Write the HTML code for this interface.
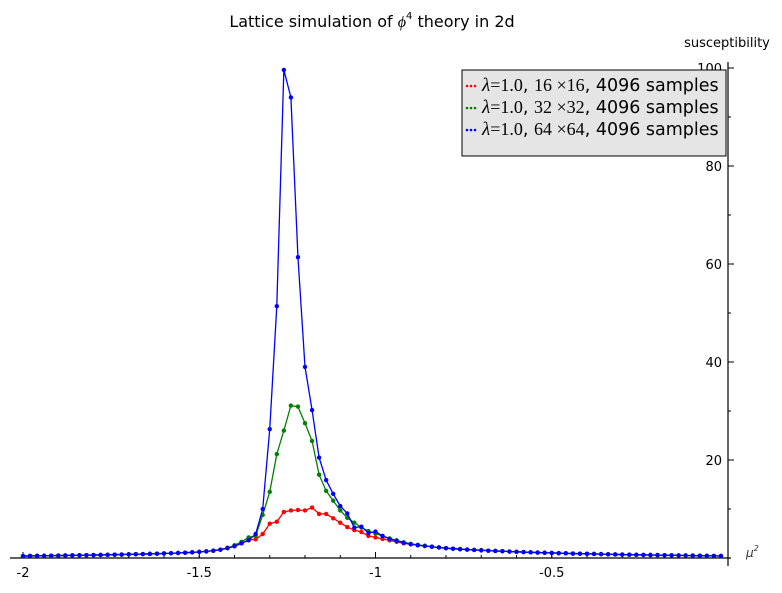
<!DOCTYPE html>
<html><head><meta charset="utf-8"><style>
body{margin:0;background:#fff;font-family:"Liberation Sans","DejaVu Sans",sans-serif}
</style></head><body>
<svg id="chart" width="782" height="588" xmlns="http://www.w3.org/2000/svg" font-family="DejaVu Sans, Liberation Sans, sans-serif">
<rect width="782" height="588" fill="#fff"/>
<text x="372" y="27" font-size="16" text-anchor="middle">Lattice simulation of <tspan font-style="italic" font-family="Liberation Serif, serif">ϕ</tspan><tspan font-size="10" dy="-8">4</tspan><tspan dy="8"> theory in 2d</tspan></text>
<text x="727" y="47" font-size="13" text-anchor="middle">susceptibility</text>
<text x="746" y="557" font-size="12" font-style="italic" fill="#333">μ<tspan font-size="8" dy="-6">2</tspan></text>
<g id="axes"></g>
<g id="series"></g>
<g>
<rect x="462" y="70" width="264" height="86" fill="#e5e5e5" stroke="#000" stroke-width="1"/>
<g id="legend-items"></g>
</g>
</svg>
<script>
const xStart = -2, xStep = 0.02;
const tailLeft = [0.40,0.42,0.44,0.46,0.48,0.50,0.52,0.54,0.56,0.58,0.60,0.62,0.65,0.68,0.71,0.74,0.77,0.80,0.84,0.88,0.92,0.97,1.02,1.08,1.15,1.25,1.35,1.5,1.7];
const tailRight = [2.0,1.9,1.8,1.72,1.65,1.58,1.5,1.44,1.38,1.32,1.26,1.21,1.16,1.11,1.07,1.03,0.99,0.95,0.91,0.88,0.85,0.82,0.79,0.76,0.73,0.70,0.67,0.65,0.63,0.61,0.59,0.57,0.55,0.53,0.51,0.49,0.47,0.45,0.43,0.41];
const redPeak = [2.1,2.4,3.0,3.7,3.8,4.9,7.0,7.4,9.4,9.7,9.8,9.7,10.3,9.0,9.0,8.1,7.2,6.3,5.7,5.3,4.5,4.2,3.9,3.6,3.3,3.0,2.8,2.6,2.45,2.3,2.15];
const greenPeak = [2.0,2.6,3.3,4.2,4.5,8.8,13.5,21.2,26,31.1,30.9,27.5,23.9,17,13.7,11.7,9.7,8.2,7.2,6.2,5.5,5.0,4.5,4.0,3.6,3.2,2.9,2.7,2.5,2.3,2.15];
const bluePeak = [2.0,2.4,3.0,3.6,4.9,10,26.3,51.4,99.6,94,61.4,39,30.2,20.5,15.9,13.1,10.6,9.1,6.2,6.4,5.1,5.4,4.5,3.9,3.5,3.1,2.8,2.6,2.45,2.3,2.15];
const red = tailLeft.concat(redPeak, tailRight);
const green = tailLeft.concat(greenPeak, tailRight);
const blue = tailLeft.concat(bluePeak, tailRight);
const xTicks = [-2,-1.5,-1,-0.5];
const xTickLabels = ["-2","-1.5","-1","-0.5"];
const yTicks = [20,40,60,80,100];
const yTickLabels = ["20","40","60","80","100"];
const legendLabels = ["16 ×16","32 ×32","64 ×64"];

const NS="http://www.w3.org/2000/svg";
function X(v){return 23+(v+2)*352.5;}
function Y(v){return 558-v*4.9;}
function mk(t,a,p){const e=document.createElementNS(NS,t);for(const k in a)e.setAttribute(k,a[k]);p.appendChild(e);return e;}
const axes=document.getElementById('axes');
const xl=mk('line',{x1:10,y1:558,x2:731,y2:558,stroke:'#000','stroke-width':1.2},axes);


const yl=mk('line',{x1:728,y1:62,x2:728,y2:566,stroke:'#000','stroke-width':1.2},axes);


for(let v=-2;v<0.001;v+=0.1){const x=X(v);mk('line',{x1:x,y1:558,x2:x,y2:555,stroke:'#000'},axes);}
xTicks.forEach((v,i)=>{const x=X(v);mk('line',{x1:x,y1:558,x2:x,y2:552,stroke:'#000'},axes);
const t=mk('text',{x:x,y:577,'font-size':13,'text-anchor':'middle'},axes);t.textContent=xTickLabels[i];

});
for(let v=10;v<=100;v+=10){const y=Y(v);mk('line',{x1:728,y1:y,x2:731,y2:y,stroke:'#000'},axes);}
yTicks.forEach((v,i)=>{const y=Y(v);mk('line',{x1:728,y1:y,x2:734,y2:y,stroke:'#000'},axes);
const t=mk('text',{x:722,y:y+5,'font-size':13,'text-anchor':'end'},axes);t.textContent=yTickLabels[i];

});
const sg=document.getElementById('series');
[[red,'#f00','series-16x16'],[green,'#008000','series-32x32'],[blue,'#00f','series-64x64']].forEach(([d,c,n])=>{
const g=mk('g',{},sg);


mk('polyline',{points:d.map((v,i)=>X(xStart+i*xStep)+','+Y(v)).join(' '),fill:'none',stroke:c,'stroke-width':1.3},g);
d.forEach((v,i)=>{const p=mk('circle',{cx:X(xStart+i*xStep),cy:Y(v),r:2.2,fill:c},g);

});
});
const li=document.getElementById('legend-items');
['#f00','#008000','#00f'].forEach((c,i)=>{const y=90+i*22;
const g=mk('g',{},li);


for(let k=0;k<3;k++)mk('circle',{cx:467+k*4,cy:y-4,r:1.3,fill:c},g);
const t=mk('text',{x:482,y:y+1,'font-size':17.5},g);
t.innerHTML='<tspan font-style="italic" font-family="Liberation Serif, serif" font-size="19">λ</tspan><tspan font-family="Liberation Serif, serif" font-size="18">=1.0</tspan>, <tspan font-family="Liberation Serif, serif" font-size="18">'+legendLabels[i]+'</tspan>, 4096 samples';
});
</script>
</body></html>
